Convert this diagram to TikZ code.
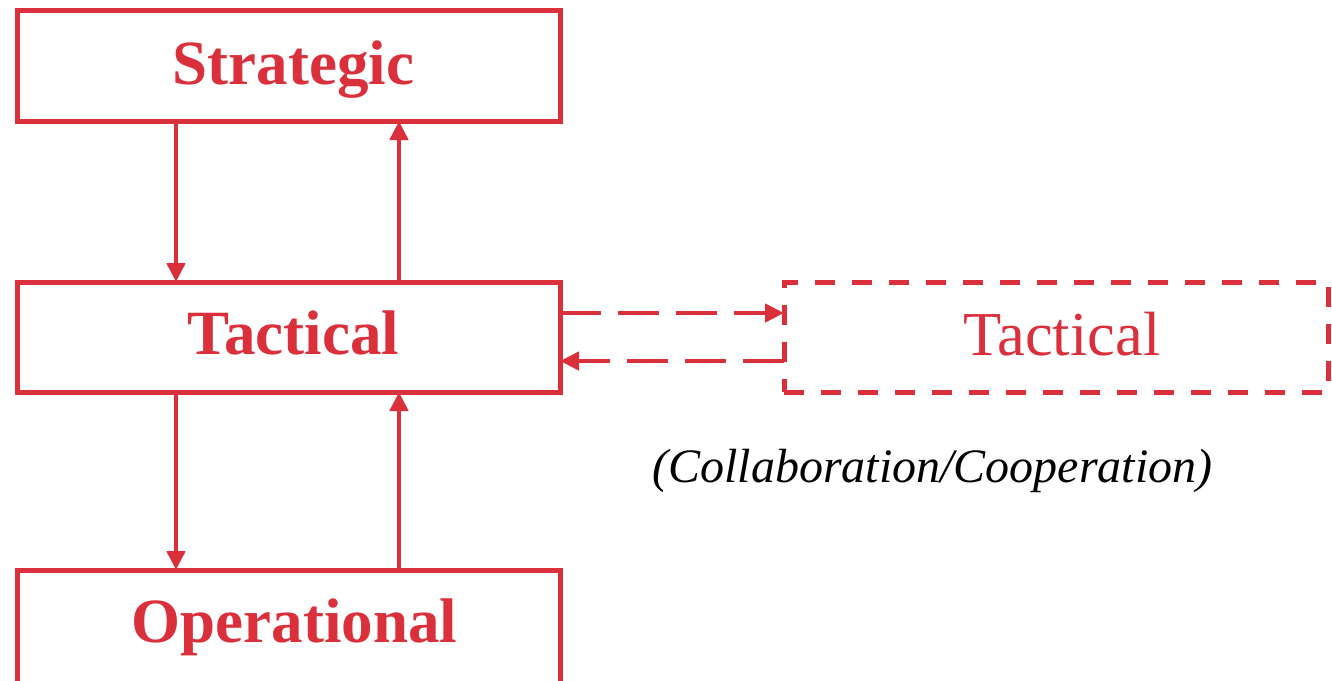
\documentclass[tikz,border=0pt]{standalone}
\usepackage{fontspec}
\setmainfont{Liberation Serif}
\usetikzlibrary{arrows.meta}
\definecolor{lvlred}{RGB}{217,48,60}
\begin{document}
\begin{tikzpicture}[x=1pt,y=-1pt,
  lvlbox/.style={draw=lvlred, line width=5pt, minimum width=543pt, minimum height=110pt, inner sep=0pt, outer sep=0pt},
  peerbox/.style={lvlbox, dash pattern=on 20pt off 17pt},
  title/.style={text=lvlred, font=\fontsize{63pt}{70pt}\selectfont\bfseries, inner sep=0pt, anchor=base},
  peertitle/.style={text=lvlred, font=\fontsize{62.5pt}{70pt}\selectfont, inner sep=0pt, anchor=base},
  note/.style={text=black, font=\fontsize{48pt}{56pt}\selectfont\itshape, inner sep=0pt, anchor=base},
  flow/.style={draw=lvlred, line width=4.6pt, -{Triangle[length=19pt,width=18pt]}},
  link/.style={flow, dash pattern=on 41pt off 17pt}]
\useasboundingbox (0,0) rectangle (1332,680);

% hierarchy levels
\node[lvlbox, minimum height=111pt] (S) at (288.5,65.5) {};
\node[lvlbox] (T) at (288.5,337) {};
\node[lvlbox, minimum height=116pt] (O) at (288.5,628) {};
% partner at the same level
\node[peerbox, minimum width=544pt] (P) at (1056,337) {};

\node[title] (St) at (293.5,84) {Strategic};
\node[title] (Tt) at (293.5,354) {Tactical};
\node[title] (Ot) at (294.5,642) {Operational};
\node[peertitle] (Pt) at (1062,355) {Tactical};
\node[note] (N) at (932.5,482) {(Collaboration/Cooperation)};

% vertical flows between levels
\draw[flow] ([xshift=-112.5pt]S.south) -- ([xshift=-112.5pt]T.north);
\draw[flow] ([xshift=110.5pt]T.north) -- ([xshift=110.5pt]S.south);
\draw[flow] ([xshift=-112.5pt]T.south) -- ([xshift=-112.5pt]O.north);
\draw[flow] ([xshift=110.5pt]O.north) -- ([xshift=110.5pt]T.south);

% exchange with the partner
\draw[link] ([yshift=24pt]T.east) -- ([yshift=24pt]T.east -| P.west);
\draw[link] ([yshift=-24pt]T.east -| P.west) -- ([yshift=-24pt]T.east);
\end{tikzpicture}
\end{document}
